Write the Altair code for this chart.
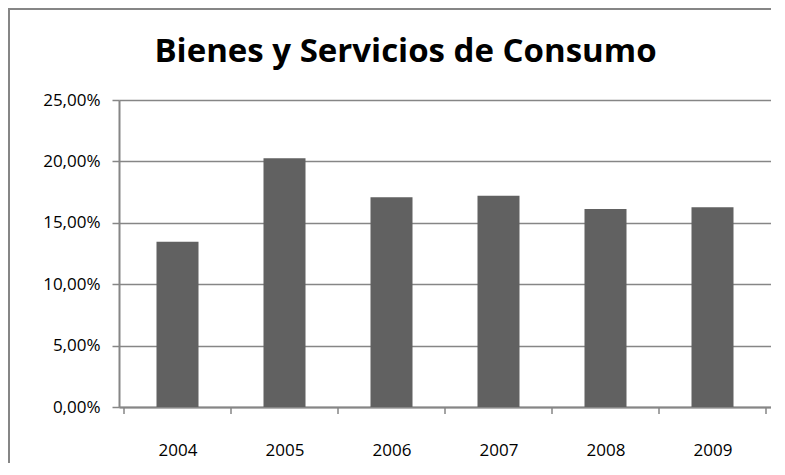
import altair as alt
import pandas as pd

title_text = "Bienes y Servicios de Consumo"
years = [2004, 2005, 2006, 2007, 2008, 2009]
values = [0.1346, 0.2025, 0.1708, 0.1721, 0.1612, 0.1626]
y_ticks = [0.0, 0.05, 0.10, 0.15, 0.20, 0.25]

df = pd.DataFrame({"Año": years, "Valor": values})
bounds = pd.DataFrame({"b": [y - 0.5 for y in years] + [years[-1] + 0.5]})
title_df = pd.DataFrame({"t": [title_text]})

W, H = 652, 307
GRAY = "#868686"
FONT = "Open Sans"

xscale = alt.Scale(domain=[years[0] - 0.5, years[-1] + 0.5], nice=False, zero=False)

bars = alt.Chart(df).mark_bar(color="#616161", width=42).encode(
    x=alt.X("Año:Q", scale=xscale,
            axis=alt.Axis(values=years, format="d", ticks=False, grid=False,
                          domainColor=GRAY, domainWidth=2, labelFontSize=17,
                          labelFont=FONT, labelColor="#000000", labelPadding=35,
                          title=None)),
    y=alt.Y("Valor:Q", scale=alt.Scale(domain=[0, 0.25], nice=False),
            axis=alt.Axis(values=y_ticks,
                          labelExpr="replace(format(datum.value, '.2%'), '.', ',')",
                          grid=True, gridColor=GRAY, gridWidth=1.5,
                          domainColor=GRAY, domainWidth=2, tickColor=GRAY,
                          tickSize=7, tickWidth=1.5, labelFontSize=17,
                          labelFont=FONT, labelColor="#000000", labelPadding=12,
                          title=None)),
)

xticks = alt.Chart(bounds).mark_rule(color=GRAY, strokeWidth=1.5).encode(
    x=alt.X("b:Q", scale=xscale),
    y=alt.value(H),
    y2=alt.value(H + 7),
)

title = alt.Chart(title_df).mark_text(
    font=FONT, fontSize=33, fontWeight="bold", color="#000000",
    align="center", baseline="alphabetic",
).encode(text="t:N", x=alt.value(286.5), y=alt.value(-38))

border_top = alt.Chart(title_df).mark_rule(
    color=GRAY, strokeWidth=2, clip=False
).encode(x=alt.value(-111), x2=alt.value(W + 20), y=alt.value(-91))

border_left = alt.Chart(title_df).mark_rule(
    color=GRAY, strokeWidth=2, clip=False
).encode(x=alt.value(-110), y=alt.value(-92), y2=alt.value(H + 80))

chart = alt.layer(bars, xticks, title, border_top, border_left).properties(
    width=W, height=H,
    padding={"left": 111, "top": 92, "right": 0, "bottom": 56},
    autosize=alt.AutoSizeParams(type="none"),
).configure_view(stroke="transparent", strokeWidth=0).configure(background="white")

chart.save("out.html", embed_options={"renderer": "svg", "actions": False})
